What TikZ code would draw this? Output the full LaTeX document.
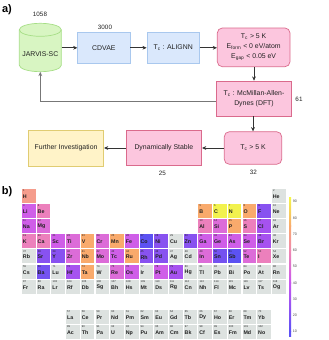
\documentclass[tikz,border=0pt]{standalone}
\usepackage{fontspec}
\setmainfont{Liberation Sans}
\usetikzlibrary{arrows.meta}
\definecolor{txt}{HTML}{222222}
\definecolor{aline}{HTML}{333333}
\definecolor{fbline}{HTML}{777777}
\definecolor{gfill}{HTML}{D8F5C2}
\definecolor{gline}{HTML}{A6DE86}
\definecolor{bfill}{HTML}{DAE8FC}
\definecolor{bline}{HTML}{A9C8EE}
\definecolor{pfill}{HTML}{FCC6DE}
\definecolor{pline}{HTML}{DA6A8C}
\definecolor{yfill}{HTML}{FFF3C8}
\definecolor{yline}{HTML}{E0CC72}
\definecolor{cgray}{HTML}{DDE2E0}
\definecolor{cblue}{HTML}{5C52F2}
\definecolor{cindigo}{HTML}{7452F0}
\definecolor{cpurple}{HTML}{8852F0}
\definecolor{cviolet}{HTML}{A652EF}
\definecolor{cmagenta}{HTML}{CF5EE8}
\definecolor{cpinkmag}{HTML}{DC6CD8}
\definecolor{cpink}{HTML}{EC80BC}
\definecolor{csalmon}{HTML}{F59C8C}
\definecolor{corange}{HTML}{F9AA6C}
\definecolor{cyellow}{HTML}{F2F24E}
\definecolor{cb10}{HTML}{5C50F5}
\definecolor{cb40}{HTML}{C855F0}
\definecolor{cb60}{HTML}{F088B0}
\definecolor{cb75}{HTML}{F9AA6C}
\definecolor{cb92}{HTML}{F4F648}
\newcommand\pcell[5]{%
  \node[pcellbox, fill=#5] (e#3) at ({22+(#1-1)*14.7+6.8},{#2+7}) {};
  \node[anum] (n#3) at ([xshift=1.1pt,yshift=-0.8pt]e#3.north west) {#3};
  \node[asym] (s#3) at ([xshift=1.0pt,yshift=-0.7pt]e#3.west) {#4};
}
\begin{document}
\begin{tikzpicture}[x=1pt,y=-1pt,
  boxtext/.style={inner sep=0pt, align=center, text=txt, font=\fontsize{6.9}{10}\selectfont},
  flowbox/.style={boxtext, draw, line width=0.7pt},
  bluebox/.style={flowbox, fill=bfill, draw=bline, minimum width=52.3pt, minimum height=31pt},
  pinkbox/.style={flowbox, fill=pfill, draw=pline},
  yellowbox/.style={flowbox, fill=yfill, draw=yline},
  count/.style={inner sep=0pt, text=txt, font=\fontsize{6.3}{7}\selectfont},
  arr/.style={draw=aline, line width=0.7pt, -{Stealth[length=4.2pt,width=3.8pt]}},
  fb/.style={draw=fbline, line width=0.9pt, -{Stealth[length=4.2pt,width=3.8pt]}},
  panel/.style={inner sep=0pt, text=black, font=\fontsize{11}{12}\selectfont\bfseries},
  pcellbox/.style={rectangle, inner sep=0pt, minimum width=13.6pt, minimum height=14pt},
  anum/.style={anchor=north west, inner sep=0pt, text=txt, font=\fontsize{2.7}{3}\selectfont},
  asym/.style={anchor=west, inner sep=0pt, text=txt, font=\fontsize{5.3}{6}\selectfont\bfseries},
  tick/.style={anchor=west, inner sep=0pt, text=black!70, font=\fontsize{3.6}{4}\selectfont}
]
\useasboundingbox (0,0) rectangle (329,340);

% ---------------- panel a ----------------
\node[panel] (pa) at (7,10) {a)};

% cylinder JARVIS-SC
\filldraw[fill=gfill, draw=gline, line width=0.7pt]
  (19.3,29.8) -- (19.3,65.2)
  arc[start angle=180, end angle=0, x radius=21, y radius=6.5]
  -- (61.3,29.8)
  arc[start angle=0, end angle=-180, x radius=21, y radius=6.5] -- cycle;
\draw[gline, line width=0.7pt] (19.3,29.8) arc[start angle=180, end angle=0, x radius=21, y radius=6.5];
\node[boxtext, minimum width=42pt, minimum height=48.4pt] (jarvis) at (40.3,47.5) {};
\node[boxtext] (jlabel) at (40.3,54) {JARVIS-SC};
\node[count] (n1058) at (40,14.7) {1058};

\node[bluebox] (cdvae) at (103.85,47.8) {CDVAE};
\node[count] (n3000) at (105,27.3) {3000};
\node[bluebox] (alignn) at (173.15,47.8) {T\textsubscript{c} : ALIGNN};

\node[pinkbox, rounded corners=5pt, minimum width=72.7pt, minimum height=38.7pt] (filt) at (253.65,47.35)
  {T\textsubscript{c} > 5 K\\E\textsubscript{form} < 0 eV/atom\\E\textsubscript{gap} < 0.05 eV};

\node[pinkbox, minimum width=75.4pt, minimum height=35pt] (mcm) at (254,98.5)
  {T\textsubscript{c} : McMillan-Allen-\\Dynes (DFT)};
\node[count] (n61) at (299,99) {61};

\node[pinkbox, rounded corners=5pt, minimum width=57.4pt, minimum height=32.6pt] (tc5) at (253,148)
  {T\textsubscript{c} > 5 K};
\node[count] (n32) at (253.3,172.7) {32};

\node[pinkbox, minimum width=75.7pt, minimum height=34.6pt] (dyn) at (163.85,148) {Dynamically Stable};
\node[count] (n25) at (162.3,173.3) {25};

\node[yellowbox, minimum width=75.4pt, minimum height=36pt] (fur) at (66,148) {Further Investigation};

\draw[arr] (jarvis.east |- cdvae.west) -- (cdvae.west);
\draw[arr] (cdvae.east) -- (alignn.west);
\draw[arr] (alignn.east) -- (alignn.east -| filt.west);
\draw[arr] (filt.south -| mcm.north) -- (mcm.north);
\draw[fb] ([yshift=-3pt]mcm.west) -| (jarvis.south);
\draw[arr] (mcm.south -| tc5.north) -- (tc5.north);
\draw[arr] (tc5.west) -- (dyn.east);
\draw[arr] (dyn.west) -- (fur.east);

% ---------------- panel b ----------------
\node[panel] (pb) at (7,192) {b)};

\foreach \c/\n/\s/\k in {1/1/H/csalmon, 18/2/He/cgray}
  {\pcell{\c}{188.6}{\n}{\s}{\k}}
\foreach \c/\n/\s/\k in {1/3/Li/cmagenta, 2/4/Be/cpink, 13/5/B/corange, 14/6/C/cyellow,
  15/7/N/cyellow, 16/8/O/corange, 17/9/F/cpurple, 18/10/Ne/cgray}
  {\pcell{\c}{203.8}{\n}{\s}{\k}}
\foreach \c/\n/\s/\k in {1/11/Na/cmagenta, 2/12/Mg/cpinkmag, 13/13/Al/cpink, 14/14/Si/cpinkmag,
  15/15/P/corange, 16/16/S/cpink, 17/17/Cl/cviolet, 18/18/Ar/cgray}
  {\pcell{\c}{219.0}{\n}{\s}{\k}}
\foreach \c/\n/\s/\k in {1/19/K/cpink, 2/20/Ca/cpink, 3/21/Sc/cmagenta, 4/22/Ti/cpinkmag,
  5/23/V/corange, 6/24/Cr/cpinkmag, 7/25/Mn/corange, 8/26/Fe/cmagenta, 9/27/Co/cblue,
  10/28/Ni/cpurple, 11/29/Cu/cgray, 12/30/Zn/cpurple, 13/31/Ga/cmagenta, 14/32/Ge/cmagenta,
  15/33/As/cmagenta, 16/34/Se/cmagenta, 17/35/Br/cviolet, 18/36/Kr/cgray}
  {\pcell{\c}{234.2}{\n}{\s}{\k}}
\foreach \c/\n/\s/\k in {1/37/Rb/cgray, 2/38/Sr/cpurple, 3/39/Y/cpurple, 4/40/Zr/cpinkmag,
  5/41/Nb/corange, 6/42/Mo/cpinkmag, 7/43/Tc/cmagenta, 8/44/Ru/corange, 9/45/Rh/cpurple,
  10/46/Pd/cpurple, 11/47/Ag/cgray, 12/48/Cd/cgray, 13/49/In/cpinkmag, 14/50/Sn/cindigo,
  15/51/Sb/cblue, 16/52/Te/cpinkmag, 17/53/I/cpink, 18/54/Xe/cgray}
  {\pcell{\c}{249.4}{\n}{\s}{\k}}
\foreach \c/\n/\s/\k in {1/55/Cs/cgray, 2/56/Ba/cindigo, 3/71/Lu/cgray, 4/72/Hf/cviolet,
  5/73/Ta/corange, 6/74/W/cgray, 7/75/Re/cpinkmag, 8/76/Os/cmagenta, 9/77/Ir/cgray,
  10/78/Pt/cmagenta, 11/79/Au/cviolet, 12/80/Hg/cgray, 13/81/Tl/cgray, 14/82/Pb/cgray,
  15/83/Bi/cgray, 16/84/Po/cgray, 17/85/At/cgray, 18/86/Rn/cgray}
  {\pcell{\c}{264.6}{\n}{\s}{\k}}
\foreach \c/\n/\s in {1/87/Fr, 2/88/Ra, 3/103/Lr, 4/104/Rf, 5/105/Db, 6/106/Sg, 7/107/Bh,
  8/108/Hs, 9/109/Mt, 10/110/Ds, 11/111/Rg, 12/112/Cn, 13/113/Nh, 14/114/Fl, 15/115/Mc,
  16/116/Lv, 17/117/Ts, 18/118/Og}
  {\pcell{\c}{279.8}{\n}{\s}{cgray}}
\foreach \c/\n/\s in {4/57/La, 5/58/Ce, 6/59/Pr, 7/60/Nd, 8/61/Pm, 9/62/Sm, 10/63/Eu,
  11/64/Gd, 12/65/Tb, 13/66/Dy, 14/67/Ho, 15/68/Er, 16/69/Tm, 17/70/Yb}
  {\pcell{\c}{310.0}{\n}{\s}{cgray}}
\foreach \c/\n/\s in {4/89/Ac, 5/90/Th, 6/91/Pa, 7/92/U, 8/93/Np, 9/94/Pu, 10/95/Am,
  11/96/Cm, 12/97/Bk, 13/98/Cf, 14/99/Es, 15/100/Fm, 16/101/Md, 17/102/No}
  {\pcell{\c}{325.2}{\n}{\s}{cgray}}

% colour bar
\shade[bottom color=cb10, top color=cb10] (289,336.7) rectangle (291,331.5);
\shade[bottom color=cb10, top color=cb40] (289,331.7) rectangle (291,282.8);
\shade[bottom color=cb40, top color=cb60] (289,283) rectangle (291,250.3);
\shade[bottom color=cb60, top color=cb75] (289,250.45) rectangle (291,225.9);
\shade[bottom color=cb75, top color=cb92] (289,226.1) rectangle (291,197.3);
\foreach \v in {10,20,...,90}
  {\node[tick] (cb\v) at (292.6,{331.7-(\v-10)*1.625}) {\v};}
\end{tikzpicture}
\end{document}
